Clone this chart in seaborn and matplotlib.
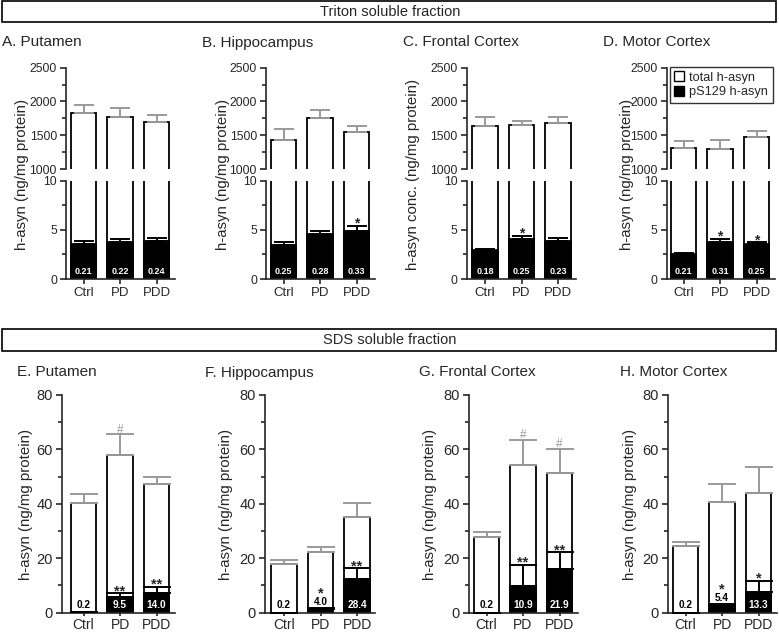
import numpy as np
import pandas as pd
import matplotlib
matplotlib.use("Agg")
import matplotlib.pyplot as plt
import seaborn as sns
from matplotlib.patches import Rectangle, Patch
from matplotlib.ticker import MultipleLocator

# ---------------- data ----------------
groups = ["Ctrl", "PD", "PDD"]

# Triton soluble fraction (A-D)
triton_titles = ["A. Putamen", "B. Hippocampus", "C. Frontal Cortex", "D. Motor Cortex"]
triton_ylabels = ["h-asyn (ng/mg protein)", "h-asyn (ng/mg protein)",
                  "h-asyn conc. (ng/mg protein)", "h-asyn (ng/mg protein)"]
triton_total_A = [1836, 1777, 1703]
triton_total_B = [1433, 1752, 1546]
triton_total_C = [1644, 1654, 1679]
triton_total_D = [1310, 1300, 1467]
triton_total_err_A = [113, 123, 99]
triton_total_err_B = [162, 124, 84]
triton_total_err_C = [128, 64, 98]
triton_total_err_D = [108, 133, 99]
triton_ps_A = [3.58, 3.72, 3.85]
triton_ps_B = [3.48, 4.59, 4.93]
triton_ps_C = [2.91, 4.05, 3.82]
triton_ps_D = [2.53, 3.72, 3.51]
triton_ps_err_A = [0.31, 0.33, 0.34]
triton_ps_err_B = [0.24, 0.34, 0.48]
triton_ps_err_C = [0.16, 0.34, 0.37]
triton_ps_err_D = [0.14, 0.37, 0.21]
triton_pct_A = ["0.21", "0.22", "0.24"]
triton_pct_B = ["0.25", "0.28", "0.33"]
triton_pct_C = ["0.18", "0.25", "0.23"]
triton_pct_D = ["0.21", "0.31", "0.25"]
triton_star_A = ["", "", ""]
triton_star_B = ["", "", "*"]
triton_star_C = ["", "*", ""]
triton_star_D = ["", "*", "*"]

# SDS soluble fraction (E-H)
sds_titles = ["E. Putamen", "F. Hippocampus", "G. Frontal Cortex", "H. Motor Cortex"]
sds_total_E = [40.4, 58.0, 47.2]
sds_total_F = [17.9, 22.4, 35.0]
sds_total_G = [27.8, 54.1, 51.4]
sds_total_H = [24.6, 40.8, 43.9]
sds_total_err_E = [3.1, 7.6, 2.8]
sds_total_err_F = [1.6, 1.7, 5.4]
sds_total_err_G = [1.9, 9.4, 8.8]
sds_total_err_H = [1.5, 6.5, 9.8]
sds_ps_E = [0.08, 5.6, 7.1]
sds_ps_F = [0.04, 1.35, 12.4]
sds_ps_G = [0.06, 9.9, 15.9]
sds_ps_H = [0.05, 2.45, 7.7]
sds_ps_err_E = [0.0, 1.5, 2.5]
sds_ps_err_F = [0.0, 0.3, 3.9]
sds_ps_err_G = [0.0, 7.8, 6.4]
sds_ps_err_H = [0.0, 0.75, 4.1]
sds_pct_E = ["0.2", "9.5", "14.0"]
sds_pct_F = ["0.2", "4.0", "28.4"]
sds_pct_G = ["0.2", "10.9", "21.9"]
sds_pct_H = ["0.2", "5.4", "13.3"]
sds_star_E = ["", "**", "**"]
sds_star_F = ["", "*", "**"]
sds_star_G = ["", "**", "**"]
sds_star_H = ["", "*", "*"]
sds_hash_E = ["", "#", ""]
sds_hash_F = ["", "", ""]
sds_hash_G = ["", "#", "#"]
sds_hash_H = ["", "", ""]

triton = [
    (triton_total_A, triton_total_err_A, triton_ps_A, triton_ps_err_A, triton_pct_A, triton_star_A),
    (triton_total_B, triton_total_err_B, triton_ps_B, triton_ps_err_B, triton_pct_B, triton_star_B),
    (triton_total_C, triton_total_err_C, triton_ps_C, triton_ps_err_C, triton_pct_C, triton_star_C),
    (triton_total_D, triton_total_err_D, triton_ps_D, triton_ps_err_D, triton_pct_D, triton_star_D),
]
sds = [
    (sds_total_E, sds_total_err_E, sds_ps_E, sds_ps_err_E, sds_pct_E, sds_star_E, sds_hash_E),
    (sds_total_F, sds_total_err_F, sds_ps_F, sds_ps_err_F, sds_pct_F, sds_star_F, sds_hash_F),
    (sds_total_G, sds_total_err_G, sds_ps_G, sds_ps_err_G, sds_pct_G, sds_star_G, sds_hash_G),
    (sds_total_H, sds_total_err_H, sds_ps_H, sds_ps_err_H, sds_pct_H, sds_star_H, sds_hash_H),
]

# ---------------- style ----------------
sns.set_style("ticks")
plt.rcParams["font.family"] = ["Liberation Sans", "DejaVu Sans"]
plt.rcParams["axes.linewidth"] = 1.2
plt.rcParams["xtick.major.width"] = 1.2
plt.rcParams["ytick.major.width"] = 1.2
plt.rcParams["ytick.minor.width"] = 1.2

W, H = 779, 633
fig = plt.figure(figsize=(W / 100, H / 100), dpi=100)
GRAY = "#9a9a9a"
PX = 0.72  # points per pixel


def rect(l, t, r, b):
    return [l / W, 1 - b / H, (r - l) / W, (b - t) / H]


def draw_bars(ax, total, total_err, ps, ps_err, capsize):
    df_t = pd.DataFrame({"group": groups, "value": total})
    df_p = pd.DataFrame({"group": groups, "value": ps})
    sns.barplot(data=df_t, x="group", y="value", order=groups, color="white",
                edgecolor="black", linewidth=1.3, width=0.7, errorbar=None,
                saturation=1, ax=ax)
    sns.barplot(data=df_p, x="group", y="value", order=groups, color="black",
                edgecolor="black", linewidth=1.3, width=0.7, errorbar=None,
                saturation=1, ax=ax)
    x = np.arange(len(groups))
    ax.errorbar(x, total, yerr=[np.zeros(3), total_err], fmt="none", ecolor=GRAY,
                elinewidth=1.4, capsize=capsize, capthick=1.4, zorder=3)
    ax.errorbar(x, ps, yerr=[np.zeros(3), ps_err], fmt="none", ecolor="black",
                elinewidth=1.4, capsize=capsize, capthick=1.4, zorder=3)
    ax.set_xlabel("")
    ax.set_ylabel("")


def header(top, bottom, text):
    fig.add_artist(Rectangle((2 / W, 1 - bottom / H), (776 - 2) / W, (bottom - top) / H,
                             transform=fig.transFigure, fill=False,
                             edgecolor="black", linewidth=1.2))
    fig.text(390 / W, 1 - (top + bottom) / 2 / H, text, ha="center", va="center",
             fontsize=10.5)


# ---------------- Triton row ----------------
header(1, 22, "Triton soluble fraction")
top_spine_x = [66, 266, 466.7, 666.7]
top_first_center = [83.5, 283.5, 485, 683.5]
top_title_x = [2, 202, 403, 603]
top_ylabel_x = [22, 223, 413, 627]
unit = 36.5

for k, (total, terr, ps, perr, pct, star) in enumerate(triton):
    sx = top_spine_x[k]
    xl = -(top_first_center[k] - sx) / unit
    right = sx + (2.5 - xl) * unit
    ax_u = fig.add_axes(rect(sx, 67.7, right, 169))
    ax_l = fig.add_axes(rect(sx, 180.7, right, 279))
    for ax in (ax_u, ax_l):
        draw_bars(ax, total, terr, ps, perr, capsize=7)
        ax.set_xlim(xl, 2.5)
        sns.despine(ax=ax)
    ax_u.set_ylim(1000, 2500)
    ax_u.yaxis.set_major_locator(MultipleLocator(500))
    ax_u.yaxis.set_minor_locator(MultipleLocator(250))
    ax_u.spines["bottom"].set_visible(False)
    ax_u.tick_params(axis="x", bottom=False, labelbottom=False)
    ax_l.set_ylim(0, 10)
    ax_l.yaxis.set_major_locator(MultipleLocator(5))
    ax_l.yaxis.set_minor_locator(MultipleLocator(2.5))
    for ax in (ax_u, ax_l):
        ax.tick_params(axis="y", which="major", length=4.5, labelsize=8.8, pad=2)
        ax.tick_params(axis="y", which="minor", length=3)
    ax_l.tick_params(axis="x", which="major", length=3.5, labelsize=9.5, pad=2.5)
    for i in range(3):
        ax_l.annotate(pct[i], (i, 0), xytext=(0, 7 * PX), textcoords="offset points",
                      ha="center", va="center", color="white", fontsize=6.5,
                      fontweight="bold")
        if star[i]:
            ax_l.annotate(star[i], (i, ps[i] + perr[i]), xytext=(0, -2 * PX),
                          textcoords="offset points", ha="center", va="baseline",
                          fontsize=10, fontweight="bold")
    fig.text(top_title_x[k] / W, 1 - 46.5 / H, triton_titles[k], ha="left",
             va="baseline", fontsize=11)
    fig.text(top_ylabel_x[k] / W, 1 - 174 / H, triton_ylabels[k], rotation=90,
             ha="center", va="center", fontsize=10.8)
    if k == 3:
        handles = [Patch(facecolor="white", edgecolor="black", linewidth=1),
                   Patch(facecolor="black", edgecolor="black", linewidth=1)]
        leg = ax_u.legend(handles, ["total h-asyn", "pS129 h-asyn"], loc="upper left",
                          bbox_to_anchor=(670 / W, 1 - 67 / H),
                          bbox_transform=fig.transFigure, frameon=True, fancybox=False,
                          fontsize=9.2, handlelength=0.75, handleheight=0.75,
                          handletextpad=0.4, labelspacing=0.2, borderpad=0.35,
                          borderaxespad=0)
        leg.get_frame().set_edgecolor("black")
        leg.get_frame().set_linewidth(1.0)

# ---------------- SDS row ----------------
header(329, 351, "SDS soluble fraction")
bot_spine_x = [61.7, 264.7, 469, 667.7]
bot_first_center = [83.5, 284, 486.5, 685.5]
bot_title_x = [17, 205, 419, 620]
bot_ylabel_x = [26, 226, 430, 630]
ppu = (612.7 - 395) / 80.0  # pixels per unit

for k, (total, terr, ps, perr, pct, star, hsh) in enumerate(sds):
    sx = bot_spine_x[k]
    xl = -(bot_first_center[k] - sx) / unit
    right = sx + (2.5 - xl) * unit
    ax = fig.add_axes(rect(sx, 395, right, 612.7))
    draw_bars(ax, total, terr, ps, perr, capsize=10)
    ax.set_xlim(xl, 2.5)
    ax.set_ylim(0, 80)
    sns.despine(ax=ax)
    ax.yaxis.set_major_locator(MultipleLocator(20))
    ax.yaxis.set_minor_locator(MultipleLocator(10))
    ax.tick_params(axis="y", which="major", length=4.5, labelsize=10.5, pad=2)
    ax.tick_params(axis="y", which="minor", length=3)
    ax.tick_params(axis="x", which="major", length=2.5, labelsize=10, pad=1.2)
    for i in range(3):
        bar_px = ps[i] * ppu
        top_px = (ps[i] + perr[i]) * ppu
        if bar_px > 14:
            ypx, col = 7.5, "white"
        elif ps[i] < 0.5:
            ypx, col = 7.5, "black"
        else:
            ypx, col = max(8.5, top_px + 6), "black"
        ax.annotate(pct[i], (i, 0), xytext=(0, ypx * PX), textcoords="offset points",
                    ha="center", va="center", color=col, fontsize=7.3,
                    fontweight="bold")
        if star[i]:
            if col == "black" and ps[i] >= 0.5:
                base = ypx + 5
                ax.annotate(star[i], (i, 0), xytext=(0, base * PX),
                            textcoords="offset points", ha="center", va="baseline",
                            fontsize=10.5, fontweight="bold")
            else:
                ax.annotate(star[i], (i, ps[i] + perr[i]), xytext=(0, -2 * PX),
                            textcoords="offset points", ha="center", va="baseline",
                            fontsize=10.5, fontweight="bold")
        if hsh[i]:
            ax.annotate(hsh[i], (i, total[i] + terr[i]), xytext=(0, 1.5 * PX),
                        textcoords="offset points", ha="center", va="baseline",
                        fontsize=8.5, color=GRAY)
    fig.text(bot_title_x[k] / W, 1 - 376.5 / H, sds_titles[k], ha="left",
             va="baseline", fontsize=11)
    fig.text(bot_ylabel_x[k] / W, 1 - 504 / H, "h-asyn (ng/mg protein)", rotation=90,
             ha="center", va="center", fontsize=10.8)

fig.savefig("out.png", dpi=100)
